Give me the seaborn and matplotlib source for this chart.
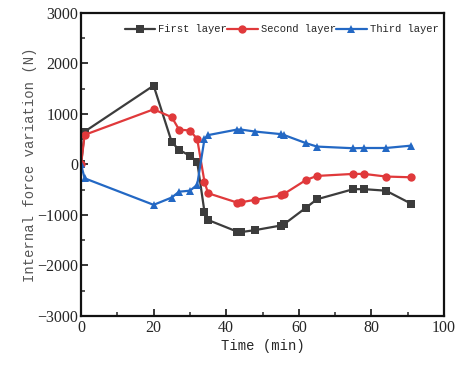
import numpy as np
import pandas as pd
import matplotlib
matplotlib.use("Agg")
import matplotlib.pyplot as plt
from matplotlib.ticker import MultipleLocator
import seaborn as sns

# Time stamps (min)
time_min = [0, 1, 20, 25, 27, 30, 32, 34, 35, 43, 44, 48, 55, 56, 62, 65, 75, 78, 84, 91]

# Internal force variation (N) for each layer
first_layer = [0, 650, 1560, 440, 290, 170, 55, -935, -1100, -1330, -1340, -1300,
               -1210, -1180, -855, -690, -490, -490, -520, -780]
second_layer = [0, 585, 1090, 935, 690, 670, 505, -340, -570, -755, -750, -700,
                -615, -580, -307, -228, -188, -188, -240, -255]
third_layer = [0, -275, -800, -655, -540, -520, -405, 500, 580, 690, 690, 650,
               600, 580, 420, 353, 320, 325, 325, 372]

layer_names = ["First layer", "Second layer", "Third layer"]

df = pd.DataFrame({
    "time": time_min * 3,
    "force": first_layer + second_layer + third_layer,
    "layer": np.repeat(layer_names, len(time_min)),
})

sns.set_style("white")
serif = ["Liberation Serif", "DejaVu Serif"]
mono = ["Liberation Mono", "DejaVu Sans Mono"]

fig = plt.figure(figsize=(4.63, 3.67), dpi=100)
ax = fig.add_axes([0.175, 0.139, 0.784, 0.826])

palette = {"First layer": "#3c3c3c", "Second layer": "#e0393b", "Third layer": "#2368c4"}
markers = {"First layer": "s", "Second layer": "o", "Third layer": "^"}

sns.lineplot(data=df, x="time", y="force", hue="layer", style="layer",
             palette=palette, markers=markers, dashes=False, estimator=None,
             markersize=6, linewidth=1.6, markeredgewidth=0, ax=ax)

ax.set_xlim(0, 100)
ax.set_ylim(-3000, 3000)
ax.xaxis.set_major_locator(MultipleLocator(20))
ax.xaxis.set_minor_locator(MultipleLocator(10))
ax.yaxis.set_major_locator(MultipleLocator(1000))
ax.yaxis.set_minor_locator(MultipleLocator(500))
ax.tick_params(which="both", direction="in", top=False, right=False,
               bottom=True, left=True)
ax.tick_params(which="major", length=5, width=1.3)
ax.tick_params(which="minor", length=3, width=1.1)
for lab in ax.get_xticklabels() + ax.get_yticklabels():
    lab.set_fontfamily(serif)
    lab.set_fontsize(11.5)
ax.tick_params(axis="x", pad=3)
ax.tick_params(axis="y", pad=2)

for sp in ax.spines.values():
    sp.set_linewidth(1.6)
    sp.set_color("#111111")

ax.set_xlabel("Time (min)", family=mono, fontsize=10, labelpad=2)
ax.set_ylabel("Internal force variation (N)", family=mono, fontsize=10,
              color="#555555", labelpad=0)

leg = ax.legend(loc="upper right", ncol=3, frameon=False,
                prop={"family": mono, "size": 7.6},
                handlelength=2.9, handletextpad=0.3, columnspacing=0.0,
                borderaxespad=0.4, bbox_to_anchor=(1.008, 0.99))

fig.savefig("out.png", dpi=100)
